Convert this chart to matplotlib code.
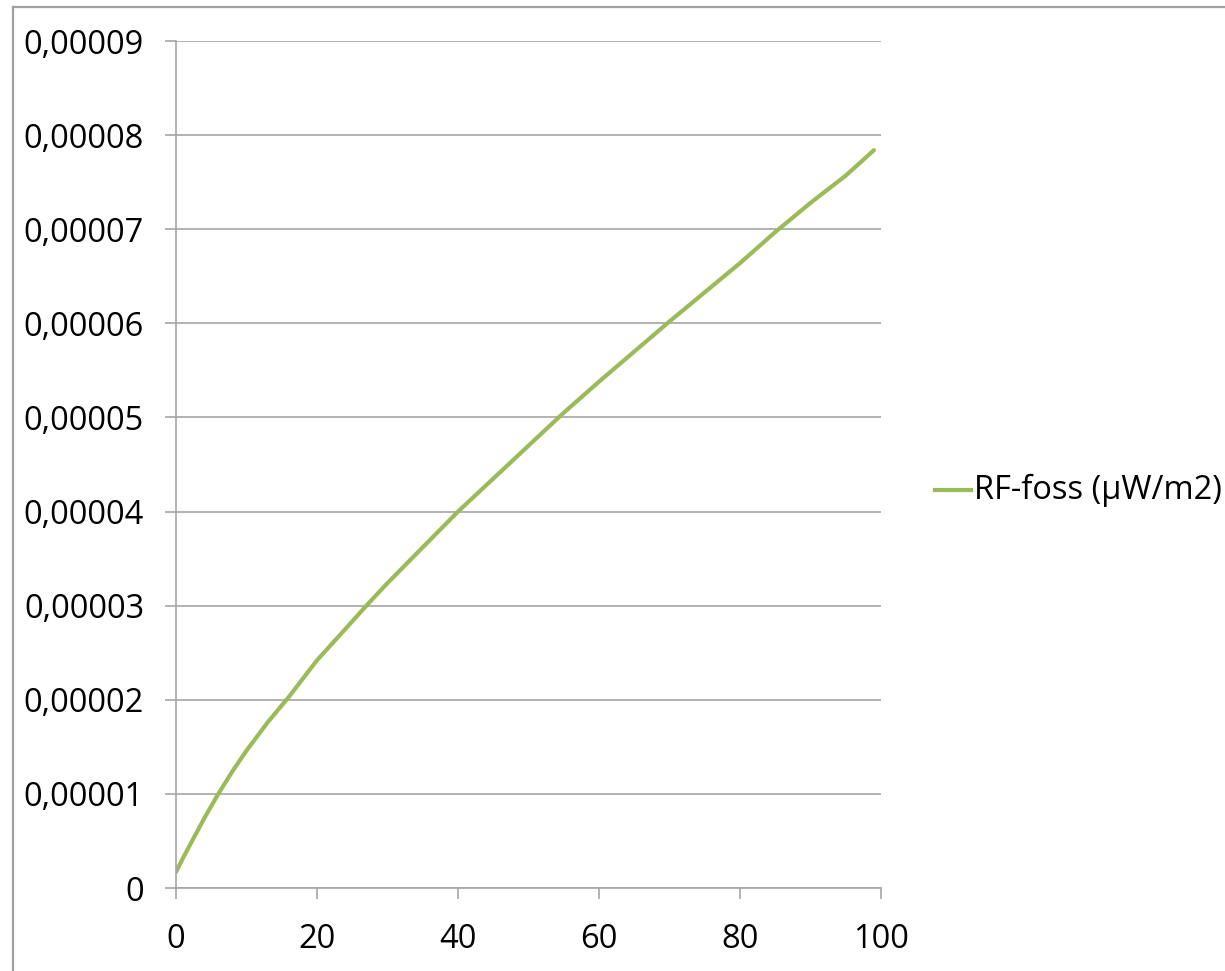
import matplotlib
matplotlib.use("Agg")
import matplotlib.pyplot as plt
from matplotlib.lines import Line2D
from matplotlib.ticker import FuncFormatter, MultipleLocator

plt.rcParams['font.family'] = ['Open Sans', 'DejaVu Sans']

# Radiative forcing from fossil emissions over time (values in µW/m2 scaled by 1e-5)
years = [0, 1, 2, 3, 4, 5, 6, 8, 10, 13, 16, 20, 24, 27, 30, 35, 40, 45, 50,
         55, 60, 65, 70, 75, 80, 85, 90, 95, 99]
rf_e5 = [0.17, 0.32, 0.46, 0.60, 0.74, 0.87, 1.00, 1.24, 1.46, 1.76, 2.03,
         2.42, 2.75, 3.00, 3.24, 3.62, 4.00, 4.35, 4.70, 5.05, 5.38, 5.70,
         6.02, 6.33, 6.64, 6.97, 7.28, 7.57, 7.84]
rf = [v * 1e-5 for v in rf_e5]
series_label = "RF-foss (µW/m2)"

W, H = 1225, 971
fig = plt.figure(figsize=(W / 100, H / 100), dpi=100)
ax = fig.add_axes([176 / W, 1 - 888 / H, (881 - 176) / W, (888 - 41) / H])

grid_col = "#a6a6a6"
line_col = "#9bbb59"
ax.plot(years, rf, color=line_col, lw=3.0, solid_capstyle="round",
        solid_joinstyle="round")

ax.set_xlim(0, 100)
ax.set_ylim(0, 0.00009)
ax.xaxis.set_major_locator(MultipleLocator(20))
ax.yaxis.set_major_locator(MultipleLocator(0.00001))


def fmt_y(v, _):
    if abs(v) < 1e-12:
        return "0"
    return f"{v:.5f}".replace(".", ",")


ax.yaxis.set_major_formatter(FuncFormatter(fmt_y))
ax.xaxis.set_major_formatter(FuncFormatter(lambda v, _: f"{v:.0f}"))

ax.grid(axis="y", color=grid_col, lw=1.2)
ax.set_axisbelow(True)
for side in ("top", "right"):
    ax.spines[side].set_visible(False)
for side in ("left", "bottom"):
    ax.spines[side].set_color(grid_col)
    ax.spines[side].set_linewidth(1.2)

ax.tick_params(axis="both", direction="out", length=8, width=1.2,
               color=grid_col, labelsize=23.5, labelcolor="black")
ax.tick_params(axis="y", pad=15)
ax.tick_params(axis="x", pad=17)

# Legend entry to the right of the plot area
fig.add_artist(Line2D([935 / W, 971 / W], [1 - 490 / H, 1 - 490 / H],
                      color=line_col, lw=3.0))
fig.text(974 / W, 1 - 490 / H, series_label, fontsize=23.5,
         ha="left", va="center")

# Outer chart frame
fig.add_artist(Line2D([13 / W, 13 / W], [0, 1 - 7 / H], color="#a0a0a0", lw=1.6))
fig.add_artist(Line2D([13 / W, 1], [1 - 7 / H, 1 - 7 / H], color="#a0a0a0", lw=1.6))

fig.savefig("out.png", dpi=100)
